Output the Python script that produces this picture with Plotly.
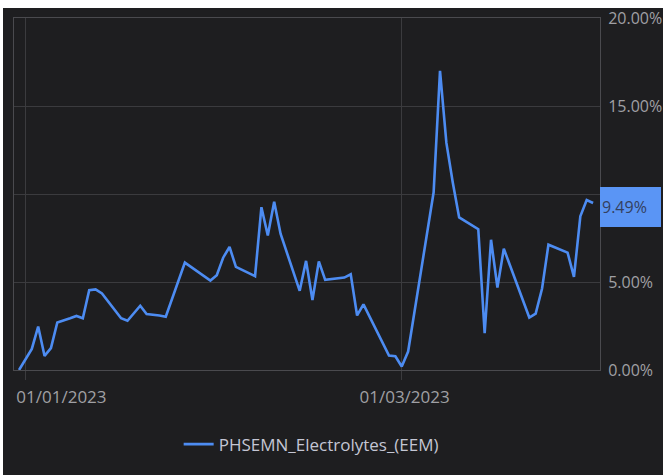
import plotly.graph_objects as go

# cumulative return series (%), business days
dates = ['2022-12-31', '2023-01-02', '2023-01-03', '2023-01-04', '2023-01-05', '2023-01-06',
         '2023-01-08', '2023-01-09', '2023-01-10', '2023-01-11', '2023-01-12', '2023-01-13',
         '2023-01-16', '2023-01-17', '2023-01-19', '2023-01-20', '2023-01-22', '2023-01-23',
         '2023-01-26', '2023-01-30', '2023-01-31', '2023-02-01', '2023-02-02', '2023-02-03',
         '2023-02-06', '2023-02-07', '2023-02-08', '2023-02-09', '2023-02-10', '2023-02-13',
         '2023-02-14', '2023-02-15', '2023-02-16', '2023-02-17', '2023-02-20', '2023-02-21',
         '2023-02-22', '2023-02-23', '2023-02-27', '2023-02-28', '2023-03-01', '2023-03-02',
         '2023-03-06', '2023-03-07', '2023-03-08', '2023-03-09', '2023-03-10', '2023-03-13',
         '2023-03-14', '2023-03-15', '2023-03-16', '2023-03-17', '2023-03-21', '2023-03-22',
         '2023-03-23', '2023-03-24', '2023-03-27', '2023-03-28', '2023-03-29', '2023-03-30',
         '2023-03-31']
values = [0.0, 1.2, 2.47, 0.8, 1.24, 2.7,
          2.94, 3.07, 2.94, 4.54, 4.58, 4.35,
          2.94, 2.8, 3.65, 3.18, 3.1, 3.03,
          6.1, 5.08, 5.38, 6.38, 6.99, 5.86,
          5.33, 9.25, 7.64, 9.56, 7.74, 4.5,
          6.2, 3.98, 6.17, 5.12, 5.25, 5.44,
          3.1, 3.73, 0.82, 0.78, 0.2, 1.05,
          10.1, 17.0, 12.9, 10.65, 8.67, 8.0,
          2.09, 7.4, 4.69, 6.89, 2.98, 3.2,
          4.63, 7.12, 6.67, 5.29, 8.73, 9.66,
          9.49]

x_ticks = ['2023-01-01', '2023-03-01']
x_labels = ['01/01/2023', '01/03/2023' + '\u00a0' * 15]
y_ticks = [0, 5, 10, 15, 20]
y_labels = ['0.00%', '5.00%', '', '15.00%', '20.00%']
series_name = 'PHSEMN_Electrolytes_(EEM)'
last_label = '9.49%'

bg = '#1e1e20'
grid = '#3b3b3e'
blue = '#4d8cf2'

fig = go.Figure(layout=go.Layout(
    width=663, height=475,
    paper_bgcolor=bg, plot_bgcolor=bg,
    margin=dict(l=14, r=63, t=18, b=103),
    font=dict(family='Open Sans, Noto Sans, sans-serif', size=16, color='#a0a0a4'),
    showlegend=True,
    legend=dict(orientation='h', x=0.281, xanchor='left', y=-0.212, yanchor='middle',
                font=dict(size=17, color='#c4c6d4'), bgcolor='rgba(0,0,0,0)'),
))

fig.add_trace(go.Scatter(x=dates, y=values, mode='lines', name=series_name,
                         line=dict(color=blue, width=2.6),
                         hovertemplate='Date: %{x}<br>Return: %{y:.2f}%'))

fig.update_xaxes(type='date', range=['2022-12-30 05:00', '2023-04-01 02:00'],
                 tickvals=x_ticks, ticktext=x_labels, ticklabelshift=36,
                 automargin=False, tickfont=dict(size=17),
                 showgrid=True, gridcolor=grid, gridwidth=1,
                 ticks='outside', ticklen=9, tickcolor=grid, ticklabelstandoff=3,
                 showline=True, linecolor='#4a4a4e', mirror=True, zeroline=False)
fig.update_yaxes(side='right', range=[0, 20], tickvals=y_ticks, ticktext=y_labels,
                 automargin=False, ticklabeloverflow='allow',
                 showgrid=True, gridcolor=grid, gridwidth=1, ticklabelstandoff=4,
                 showline=True, linecolor='#4a4a4e', mirror=True, zeroline=False)

# last value marker on the axis
fig.add_annotation(xref='paper', x=1, xanchor='left', yref='y', y=values[-1], yshift=-4,
                   text=last_label, showarrow=False, align='left',
                   bgcolor='#5a95f5', width=57, height=36, borderpad=2, borderwidth=0,
                   font=dict(size=16, color='#34405e'))

# white strips at the page edge
fig.add_shape(type='rect', xref='paper', yref='paper', x0=-0.05, x1=1.2,
              y0=1 + 10 / 354, y1=1.1, fillcolor='white', line=dict(width=0), layer='above')
fig.add_shape(type='rect', xref='paper', yref='paper', x0=-0.05, x1=-11 / 586,
              y0=-0.4, y1=1.1, fillcolor='white', line=dict(width=0), layer='above')

fig.write_html("out.html", config={'displayModeBar': False},
               post_script="document.body.style.margin='0px';")
